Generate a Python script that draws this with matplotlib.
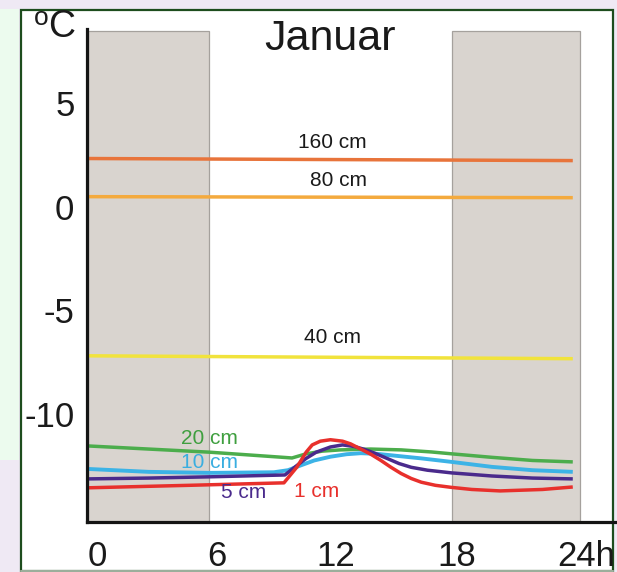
import matplotlib
matplotlib.use("Agg")
import matplotlib.pyplot as plt
from matplotlib.patches import Rectangle
from matplotlib.lines import Line2D
from matplotlib.transforms import ScaledTranslation

plt.rcParams['font.family'] = ['Liberation Sans', 'DejaVu Sans']

# ---- data ----
title = "Januar"
night_spans = [(0, 6), (18, 24.36)]

hours_flat = [0, 24]
temp_160cm = [2.32, 2.22]
temp_80cm = [0.48, 0.43]
temp_40cm = [-7.2, -7.34]

hours_20cm = [0, 3, 6, 10.1, 10.8, 11.6, 12.5, 14, 15.5, 17, 18, 20, 22, 24]
temp_20cm = [-11.55, -11.7, -11.85, -12.13, -11.93, -11.8, -11.74, -11.7, -11.74, -11.84, -11.93, -12.1, -12.25, -12.32]

hours_10cm = [0, 3, 6, 9.2, 9.9, 10.5, 11.2, 12.0, 12.8, 13.5, 14.3, 15.2, 16.5, 18, 20, 22, 24]
temp_10cm = [-12.66, -12.8, -12.85, -12.82, -12.72, -12.5, -12.25, -12.07, -11.95, -11.9, -11.93, -12.02, -12.15, -12.32, -12.56, -12.72, -12.8]

hours_5cm = [0, 3, 6, 9.75, 10.2, 10.8, 11.3, 12.0, 12.6, 13.2, 13.7, 14.2, 14.8, 15.4, 16.0, 16.8, 18, 20, 22, 24]
temp_5cm = [-13.14, -13.1, -13.04, -12.95, -12.6, -12.15, -11.85, -11.6, -11.5, -11.58, -11.72, -11.9, -12.15, -12.4, -12.58, -12.72, -12.85, -13.0, -13.1, -13.14]

hours_1cm = [0, 5, 9.7, 10.35, 10.8, 11.1, 11.5, 12.0, 12.6, 13.0, 13.5, 14.0, 14.5, 15.0, 15.5, 16.0, 16.5, 17.2, 18, 19, 20.4, 22.5, 24]
temp_1cm = [-13.57, -13.45, -13.33, -12.56, -11.85, -11.5, -11.32, -11.25, -11.32, -11.45, -11.7, -11.95, -12.25, -12.58, -12.88, -13.12, -13.3, -13.45, -13.55, -13.65, -13.72, -13.65, -13.53]

x_ticks = [0, 6, 12, 18, 24]
x_ticklabels = ["0", "6", "12", "18", "24h"]
y_ticks = [5, 0, -5, -10]
y_ticklabels = ["5", "0", "-5", "-10"]

# ---- figure ----
W, H = 617, 572
fig = plt.figure(figsize=(W / 100, H / 100), dpi=100)
fig.patch.set_facecolor('#efe9f4')

def fx(x):
    return x / W

def fy(y):
    return 1 - y / H

# mint strip on the left
fig.add_artist(Rectangle((0, fy(460)), fx(19), fy(9) - fy(460), transform=fig.transFigure,
                         facecolor='#ecfbee', edgecolor='none', zorder=0))
# white panel with dark green border
fig.add_artist(Rectangle((fx(20.5), fy(571)), fx(613) - fx(20.5), fy(9.5) - fy(571),
                         transform=fig.transFigure, facecolor='white', edgecolor='#1d4d1d',
                         linewidth=1.6, zorder=0))
fig.add_artist(Line2D([fx(20.5), fx(613)], [fy(570.5), fy(570.5)], transform=fig.transFigure,
                      color='#b5c2b5', linewidth=1.2, zorder=1))

ax = fig.add_axes([fx(87), fy(522), fx(615) - fx(87), fy(29) - fy(522)])
ax.set_facecolor('none')
ymin, ymax = -15.22, 8.57
ax.set_xlim(-0.05, 26.09)
ax.set_ylim(ymin, ymax)

for a, b in night_spans:
    ax.add_patch(Rectangle((a, ymin), b - a, 8.48 - ymin, facecolor='#d9d4cf',
                           edgecolor='#a5a19d', linewidth=0.9, zorder=1))

lw = 2.5
kw = dict(solid_capstyle='butt', solid_joinstyle='round')
ax.plot(hours_flat, temp_160cm, color='#e8743b', lw=lw, zorder=3, **kw)
ax.plot(hours_flat, temp_80cm, color='#f4aa3e', lw=lw, zorder=3, **kw)
ax.plot(hours_flat, temp_40cm, color='#f1e33c', lw=lw, zorder=3, **kw)
ax.plot(hours_20cm, temp_20cm, color='#4cad4c', lw=lw, zorder=3, **kw)
ax.plot(hours_10cm, temp_10cm, color='#3cb3e6', lw=lw + 0.3, zorder=4, **kw)
ax.plot(hours_5cm, temp_5cm, color='#4a2a8c', lw=lw, zorder=5, **kw)
ax.plot(hours_1cm, temp_1cm, color='#e8302c', lw=lw, zorder=6, **kw)

fs_lab = 15
ax.text(12.1, 3.1, "160 cm", fontsize=fs_lab, color='#1a1a1a', ha='center', va='center', zorder=7)
ax.text(12.4, 1.26, "80 cm", fontsize=fs_lab, color='#1a1a1a', ha='center', va='center', zorder=7)
ax.text(12.1, -6.33, "40 cm", fontsize=fs_lab, color='#1a1a1a', ha='center', va='center', zorder=7)
ax.text(6.0, -11.2, "20 cm", fontsize=fs_lab, color='#3f9f3f', ha='center', va='center', zorder=7)
ax.text(6.0, -12.37, "10 cm", fontsize=fs_lab, color='#3aaee0', ha='center', va='center', zorder=7)
ax.text(7.7, -13.8, "5 cm", fontsize=fs_lab, color='#4a2a8c', ha='center', va='center', zorder=7)
ax.text(11.3, -13.75, "1 cm", fontsize=fs_lab, color='#e8302c', ha='center', va='center', zorder=7)

for s in ['top', 'right']:
    ax.spines[s].set_visible(False)
for s in ['left', 'bottom']:
    ax.spines[s].set_linewidth(2.3)
    ax.spines[s].set_color('#141414')
    ax.spines[s].set_zorder(8)

ax.set_yticks(y_ticks)
ax.set_yticklabels(y_ticklabels)
ax.set_xticks(x_ticks)
ax.set_xticklabels(x_ticklabels)
ax.tick_params(axis='both', length=0, labelsize=25, labelcolor='#1a1a1a')
ax.tick_params(axis='y', pad=9)
ax.tick_params(axis='x', pad=13)

x_offsets = [9, 8, 5, 5, -16]
for lab, dx in zip(ax.get_xticklabels(), x_offsets):
    lab.set_transform(lab.get_transform() + ScaledTranslation(dx / 100, 0, fig.dpi_scale_trans))
ax.get_xticklabels()[-1].set_ha('left')

fig.text(fx(330), fy(50), title, fontsize=31, ha='center', va='baseline', color='#1a1a1a')
fig.text(fx(75), fy(37), "C", fontsize=27, ha='right', va='baseline', color='#1a1a1a')
fig.text(fx(34), fy(25), "o", fontsize=19, ha='left', va='baseline', color='#1a1a1a')

fig.savefig("out.png", dpi=100, facecolor=fig.get_facecolor())
